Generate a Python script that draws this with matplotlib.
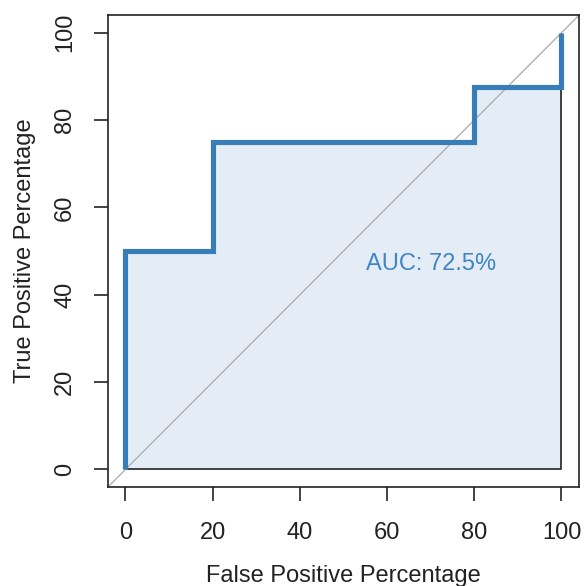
import matplotlib
matplotlib.use("Agg")
import matplotlib.pyplot as plt

# ROC curve steps (percentages)
fpr = [0, 0, 20, 20, 80, 80, 100, 100]
tpr = [0, 50, 50, 75, 75, 87.5, 87.5, 100]
auc_label = "AUC: 72.5%"
ticks = [0, 20, 40, 60, 80, 100]

plt.rcParams['font.family'] = ['Liberation Sans', 'DejaVu Sans']

fig = plt.figure(figsize=(5.85, 5.86), dpi=100)
ax = fig.add_axes([0.1846, 0.169, 0.805, 0.805])

# filled area under the curve, with thin black outline
poly_x = fpr + [100]
poly_y = tpr + [0]
ax.fill(poly_x, poly_y, facecolor='#E4EDF6', edgecolor='#222222', linewidth=1.2, zorder=1)

# diagonal reference line
ax.plot([-10, 110], [-10, 110], color='#AAAAAA', linewidth=0.9, zorder=2)

# ROC curve
ax.plot(fpr, tpr, color='#377EB8', linewidth=3.7, solid_capstyle='butt',
        solid_joinstyle='miter', zorder=3)

ax.text(70, 47, auc_label, color='#3F84C4', fontsize=17, ha='center', va='center')

ax.set_xlim(-4, 104)
ax.set_ylim(-4, 104)
ax.set_xticks(ticks)
ax.set_yticks(ticks)
ax.tick_params(direction='out', length=10, width=1.2, labelsize=17, colors='#222222')
ax.tick_params(axis='x', pad=15)
ax.tick_params(axis='y', pad=13)
for lbl in ax.get_yticklabels():
    lbl.set_rotation(90)
    lbl.set_va('center')
for s in ax.spines.values():
    s.set_linewidth(1.2)
    s.set_color('#222222')

ax.set_xlabel('False Positive Percentage', fontsize=17, color='#222222', labelpad=15)
ax.set_ylabel('True Positive Percentage', fontsize=17, color='#222222', labelpad=13)

fig.savefig('out.png', dpi=100)
